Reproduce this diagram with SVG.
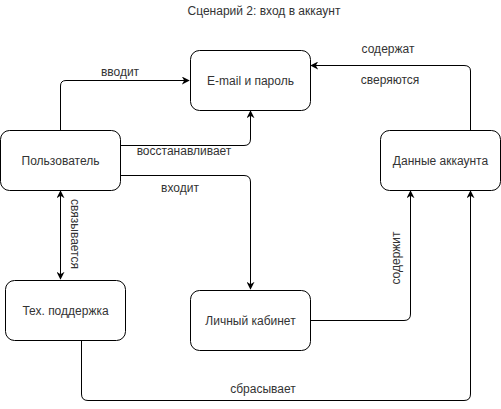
<svg xmlns="http://www.w3.org/2000/svg" width="501" height="409" viewBox="0 0 501 409">
<defs>
<style>
.box{fill:#fff;stroke:#000;stroke-width:1}
.t{font-family:"Liberation Sans",Arial,sans-serif;font-size:12px;fill:#333;text-anchor:middle;dominant-baseline:central}
.c{fill:none;stroke:#000;stroke-width:1}
</style>
<marker id="a" viewBox="0 0 10 10" refX="9" refY="5" markerWidth="8" markerHeight="8" orient="auto-start-reverse" markerUnits="userSpaceOnUse">
<path d="M0,0 L10,5 L0,10 L3,5 Z" fill="#000"/>
</marker>
</defs>
<rect width="501" height="409" fill="#fff"/>
<text class="t" x="264" y="11">Сценарий 2: вход в аккаунт</text>
<g id="connectors">
<path class="c" d="M60.5,130 V86 Q60.5,80.5 66,80.5 H189" marker-end="url(#a)"/>
<path class="c" d="M120,145.5 H244 Q250.5,145.5 250.5,139 V111" marker-end="url(#a)"/>
<path class="c" d="M120,175.5 H244 Q250.5,175.5 250.5,182 V289" marker-end="url(#a)"/>
<path class="c" d="M60.5,191 V279" marker-start="url(#a)" marker-end="url(#a)"/>
<path class="c" d="M310,320.5 H404 Q410.5,320.5 410.5,314 V191" marker-end="url(#a)"/>
<path class="c" d="M81.5,340 V394 Q81.5,400.5 88,400.5 H464 Q470.5,400.5 470.5,394 V191" marker-end="url(#a)"/>
<path class="c" d="M470.5,130 V71 Q470.5,65.5 464,65.5 H311" marker-end="url(#a)"/>
<text class="t" x="120" y="72">вводит</text>
<text class="t" x="184" y="151">восстанавливает</text>
<text class="t" x="180" y="188">входит</text>
<text class="t" transform="translate(75,234) rotate(90)">связывается</text>
<text class="t" transform="translate(396,258) rotate(-90)">содержит</text>
<text class="t" x="263" y="389">сбрасывает</text>
<text class="t" x="388" y="49">содержат</text>
<text class="t" x="390" y="80">сверяются</text>
</g>
<g id="email"><rect class="box" x="190.5" y="50.5" width="120" height="60" rx="9"/><text class="t" x="250.5" y="80.5">E-mail и пароль</text></g>
<g id="user"><rect class="box" x="0.5" y="130.5" width="120" height="60" rx="9"/><text class="t" x="60.5" y="160.5">Пользователь</text></g>
<g id="account"><rect class="box" x="380.5" y="130.5" width="120" height="60" rx="9"/><text class="t" x="440.5" y="160.5">Данные аккаунта</text></g>
<g id="support"><rect class="box" x="5.5" y="280.5" width="120" height="60" rx="9"/><text class="t" x="65.5" y="310.5">Тех. поддержка</text></g>
<g id="cabinet"><rect class="box" x="190.5" y="290.5" width="120" height="60" rx="9"/><text class="t" x="250.5" y="320.5">Личный кабинет</text></g>
</svg>
